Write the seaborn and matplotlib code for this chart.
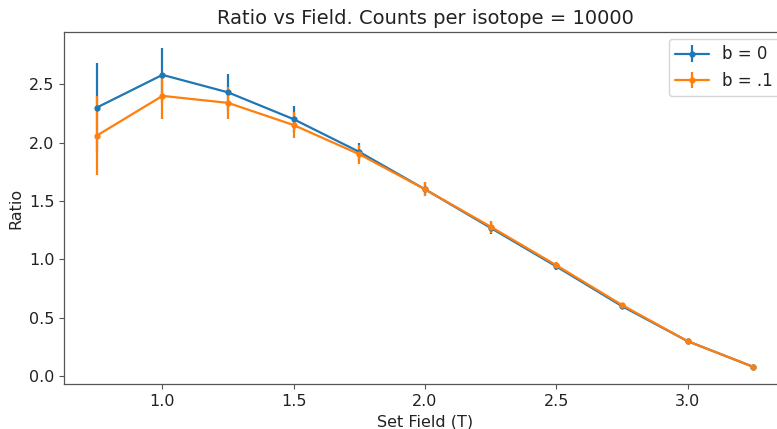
import matplotlib
matplotlib.use("Agg")
import matplotlib.pyplot as plt
import seaborn as sns
import numpy as np

field = [0.75, 1.0, 1.25, 1.5, 1.75, 2.0, 2.25, 2.5, 2.75, 3.0, 3.25]
ratio_b0 = [2.30, 2.58, 2.43, 2.20, 1.92, 1.60, 1.27, 0.94, 0.60, 0.30, 0.08]
err_b0 = [0.38, 0.23, 0.16, 0.11, 0.08, 0.06, 0.05, 0.03, 0.02, 0.01, 0.01]
ratio_b1 = [2.06, 2.40, 2.34, 2.15, 1.90, 1.60, 1.28, 0.95, 0.61, 0.30, 0.08]
err_b1 = [0.34, 0.20, 0.14, 0.11, 0.08, 0.06, 0.05, 0.03, 0.02, 0.01, 0.01]
labels = ["b = 0", "b = .1"]

sns.set_style("ticks")
plt.rcParams['font.family'] = ['DejaVu Sans']
pal = sns.color_palette("tab10")

fig = plt.figure(figsize=(7.77, 4.29), dpi=100)
ax = fig.add_axes([64/777, 1-384/429, 722/777, 352/429])

for y, e, lab, c in [(ratio_b0, err_b0, labels[0], pal[0]), (ratio_b1, err_b1, labels[1], pal[1])]:
    ax.errorbar(field, y, yerr=e, label=lab, color=c, marker='o', markersize=3.5, lw=1.6)

ax.set_title("Ratio vs Field. Counts per isotope = 10000", fontsize=14, color='#222222')
ax.set_xlabel("Set Field (T)", fontsize=11.5, color='#222222')
ax.set_ylabel("Ratio", fontsize=11.5, color='#222222')
ax.tick_params(labelsize=11.5, length=3.5, color='#555555', labelcolor='#222222')
for s in ax.spines.values():
    s.set_color('#555555')
    s.set_linewidth(0.9)
ax.set_xticks([1.0, 1.5, 2.0, 2.5, 3.0])
ax.set_yticks([0.0, 0.5, 1.0, 1.5, 2.0, 2.5])
leg = ax.legend(loc="upper right", fontsize=12, borderaxespad=0.4)
for t in leg.get_texts():
    t.set_color('#222222')
fig.savefig("out.png", dpi=100)
